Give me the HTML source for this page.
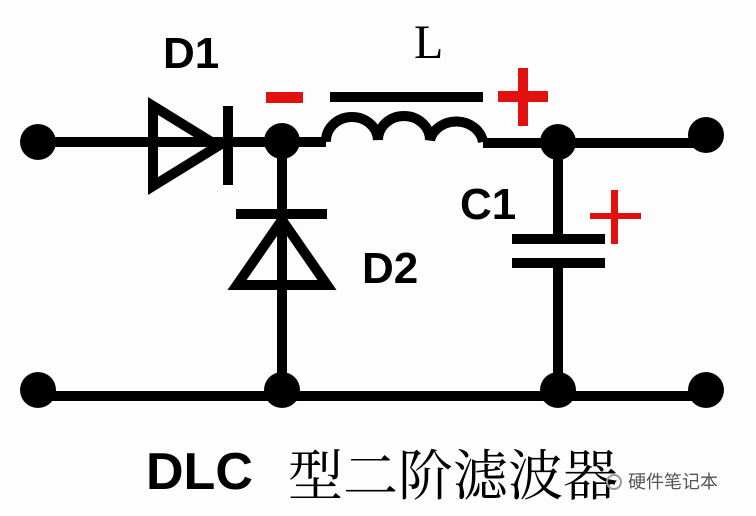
<!DOCTYPE html>
<html><head><meta charset="utf-8"><style>
html,body{margin:0;padding:0;background:#fdfdfd;}
svg{display:block}
</style></head><body>
<svg width="756" height="516" viewBox="0 0 756 516" xmlns="http://www.w3.org/2000/svg">
<rect width="756" height="516" fill="#fdfdfd"/>
<g stroke="#000" stroke-width="10" fill="none">
<line x1="38" y1="142" x2="326" y2="142"/>
<line x1="483" y1="143" x2="706" y2="143"/>
<line x1="38" y1="396" x2="706" y2="396"/>
<line x1="282" y1="142" x2="282" y2="396"/>
<line x1="558" y1="143" x2="558" y2="238"/>
<line x1="558" y1="263" x2="558" y2="396"/>
<polygon points="153,106 153,186 218,146" stroke-linejoin="miter"/>
<line x1="228" y1="106" x2="228" y2="185"/>
<line x1="236" y1="214" x2="327" y2="214"/>
<polygon points="282,220 237,285 327,285"/>
<line x1="330" y1="97" x2="483" y2="97"/>
<path d="M326,142 A26,24 0 0 1 378,140 A26,24 0 0 1 430,140 A27,24 0 0 1 483,142"/>
<line x1="512" y1="239" x2="605" y2="239"/>
<line x1="512" y1="263" x2="605" y2="263"/>
</g>
<g fill="#000">
<circle cx="38" cy="142" r="18"/>
<circle cx="282" cy="141" r="18"/>
<circle cx="558" cy="142" r="18"/>
<circle cx="706" cy="135" r="18"/>
<circle cx="38" cy="390" r="18"/>
<circle cx="282" cy="390" r="18"/>
<circle cx="558" cy="390" r="18"/>
<circle cx="706" cy="390" r="18"/>
</g>
<g fill="#e31010">
<rect x="266" y="92" width="37" height="11"/>
<rect x="498" y="91" width="50" height="11"/>
<rect x="518" y="68" width="10" height="58"/>
<rect x="590" y="213" width="51" height="6"/>
<rect x="611" y="190" width="7" height="54"/>
</g>
<g font-family="Liberation Sans, sans-serif" font-weight="bold" fill="#000">
<text x="163" y="68" font-size="44">D1</text>
<text x="460" y="219" font-size="44">C1</text>
<text x="362" y="283" font-size="44">D2</text>
<text x="146" y="489" font-size="52">DLC</text>
</g>
<text x="414" y="58" font-family="Liberation Serif, serif" font-size="48" fill="#000">L</text>
<text x="288" y="495" font-family="Liberation Serif, 'Noto Serif CJK SC', serif" font-size="55" fill="#000">型二阶滤波器</text>
<text x="628" y="488" font-family="Liberation Sans, 'Noto Sans CJK SC', sans-serif" font-size="18" fill="#555">硬件笔记本</text>
<circle cx="614" cy="482" r="7" fill="none" stroke="#999" stroke-width="2"/>
</svg>
</body></html>
